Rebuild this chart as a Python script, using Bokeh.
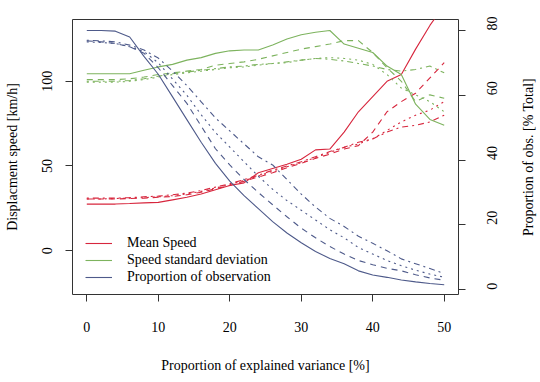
import math
from bokeh.plotting import figure
from bokeh.models import Range1d, LinearAxis, FixedTicker, Legend, LegendItem, Label
from bokeh.embed import file_html
from bokeh.resources import INLINE

# Proportion of explained variance [%]
explained_var = [0, 2, 4, 6, 8, 10, 12, 14, 16, 18, 20, 22, 24, 26, 28, 30,
                 32, 34, 36, 38, 40, 42, 44, 46, 48, 50]

# Mean speed [km/h] (left axis)
mean_speed_solid = [27.5, 27.5, 27.5, 27.8, 28.2, 28.5, 30, 31.5, 33.5, 36, 38.5, 40, 46,
                    48.5, 51, 54, 59.5, 60, 70, 82, 91, 100, 104, 119, 133, 145]
mean_speed_dashed = [30.5, 30.5, 30.5, 30.8, 31, 31.5, 32, 33, 34.5, 36.5, 38.5, 41, 43.5,
                     46, 49, 51.5, 54.5, 57, 60, 62, 70, 82, 88, 93, 102, 111]
mean_speed_dotted = [30.5, 30.5, 30.8, 31, 31.3, 31.8, 32.5, 33.5, 35, 37, 39, 41.5, 44,
                     47, 49.5, 52, 55, 58, 61, 63, 66, 71, 76, 80, 83, 88]
mean_speed_dotdash = [31, 31, 31, 31.3, 31.8, 32.2, 33, 34, 35.5, 37.5, 39.5, 42, 44.5,
                      47.5, 50, 52.5, 55.5, 58.5, 61, 64, 66, 70, 73, 74, 76, 80]

# Speed standard deviation [km/h] (left axis)
speed_sd_solid = [104.5, 104.5, 104.5, 104.5, 106.5, 108.5, 110, 112.5, 114, 116.5, 118,
                  118.5, 118.5, 121.5, 125, 127.5, 129, 130, 122, 119.5, 117, 109, 104,
                  86.5, 77.5, 74]
speed_sd_dashed = [101, 101, 101, 101.5, 102.5, 104, 105, 106, 107, 109.5, 110.5, 111.5,
                   113, 115, 117, 119, 120.5, 122, 124, 124, 117, 108, 100, 88, 92, 90]
speed_sd_dotted = [99.5, 99.5, 99.5, 100, 101, 102.5, 104, 105, 106, 107, 108, 108.5,
                   109.5, 110.5, 111, 112.5, 113.5, 114, 113.5, 112.5, 110, 104, 96, 92,
                   88, 82]
speed_sd_dotdash = [100, 100, 100, 100.5, 101.5, 103, 104.5, 105.5, 106.5, 107.5, 108.5,
                    109, 110, 110.5, 111.5, 112.5, 113.5, 113, 112, 110.5, 109, 107, 106,
                    107, 109, 105]

# Proportion of observations [% Total] (right axis)
prop_obs_solid = [80, 80, 79.8, 78, 72, 66.5, 59.5, 52.5, 45.5, 39, 33.5, 29, 25, 21,
                  17.5, 14.5, 11.8, 9.6, 8, 5.8, 4.5, 3.8, 3, 2.4, 1.9, 1.5]
prop_obs_dashed = [76.8, 76.5, 76, 75, 73, 68.5, 63, 57.5, 50.5, 43.5, 38.5, 34, 30, 26.2,
                   22.5, 19, 16, 13.3, 11, 9, 7.7, 6.6, 5.8, 4.6, 3.6, 2.9]
prop_obs_dotted = [76.5, 76.3, 76, 75, 73.5, 70, 65, 60, 54, 48.5, 44, 39.5, 35, 31, 27.5,
                   24.5, 21.5, 18.5, 16, 13, 11, 9, 7.4, 6, 4.8, 3.8]
prop_obs_dotdash = [77, 76.8, 76.5, 75.5, 74, 71.5, 67.5, 63, 58, 53, 49, 45, 41, 38.5,
                    34, 29.5, 25.5, 22, 19.5, 16.5, 14.3, 12, 9.5, 8, 6.5, 5]

x_ticks = [0, 10, 20, 30, 40, 50]
left_ticks = [0, 50, 100]
right_ticks = [0, 20, 40, 60, 80]
right_title = "Proportion of obs. [% Total]"

RED = "#D7263D"
GREEN = "#7DB35E"
BLUE = "#4E5A8A"
FONT = "Liberation Serif"
FS = "14px"

DASHES = {"solid": "solid", "dashed": "6 5", "dotted": "2 4", "dotdash": "2 4 6 4"}

FW, FH = 386, 275
p = figure(frame_width=FW, frame_height=FH,
           min_border_left=72, min_border_right=80, min_border_top=19, min_border_bottom=84,
           x_range=Range1d(-2, 52), y_range=Range1d(-25.9, 136.5),
           output_backend="svg", toolbar_location=None)
p.extra_y_ranges = {"prop": Range1d(-1.5, 83.4)}
p.grid.visible = False
p.outline_line_color = "#333333"
p.outline_line_width = 1
p.background_fill_color = "white"
p.border_fill_color = "white"

right_axis = LinearAxis(y_range_name="prop")
p.add_layout(right_axis, "right")

def style_axis(ax, ticks, label, standoff, label_standoff):
    ax.ticker = FixedTicker(ticks=ticks)
    ax.axis_label = label
    ax.axis_label_text_font = FONT
    ax.axis_label_text_font_size = FS
    ax.axis_label_text_font_style = "normal"
    ax.axis_label_text_color = "black"
    ax.major_label_text_font = FONT
    ax.major_label_text_font_size = FS
    ax.major_label_text_color = "black"
    ax.axis_line_color = None
    ax.major_tick_line_color = "#333333"
    ax.major_tick_out = 7
    ax.major_tick_in = 0
    ax.minor_tick_line_color = None
    ax.major_label_standoff = standoff
    ax.axis_label_standoff = label_standoff

style_axis(p.xaxis[0], x_ticks, "Proportion of explained variance [%]", 20, 23)
style_axis(p.yaxis[0], left_ticks, "Displacment speed [km/h]", 13, 20)
style_axis(right_axis, right_ticks, None, 27, 0)
p.yaxis[0].major_label_orientation = "vertical"
right_axis.major_label_orientation = math.pi / 2

# right-axis title, reading bottom-to-top as in the original, in the right panel
p.add_layout(Label(x=23, y=FH / 2, x_units="screen", y_units="screen",
                   text=right_title, angle=90, angle_units="deg",
                   text_align="center", text_baseline="middle",
                   text_font=FONT, text_font_size=FS, text_color="black"), "right")

series = [
    (mean_speed_solid, RED, "solid", None),
    (mean_speed_dashed, RED, "dashed", None),
    (mean_speed_dotted, RED, "dotted", None),
    (mean_speed_dotdash, RED, "dotdash", None),
    (speed_sd_solid, GREEN, "solid", None),
    (speed_sd_dashed, GREEN, "dashed", None),
    (speed_sd_dotted, GREEN, "dotted", None),
    (speed_sd_dotdash, GREEN, "dotdash", None),
    (prop_obs_solid, BLUE, "solid", "prop"),
    (prop_obs_dashed, BLUE, "dashed", "prop"),
    (prop_obs_dotted, BLUE, "dotted", "prop"),
    (prop_obs_dotdash, BLUE, "dotdash", "prop"),
]
renderers = []
for ys, col, dash, rng in series:
    kw = {}
    if rng:
        kw["y_range_name"] = rng
    r = p.line(explained_var, ys, line_color=col, line_width=1.1,
               line_dash=DASHES[dash], **kw)
    renderers.append(r)

legend = Legend(items=[
    LegendItem(label="Mean Speed", renderers=[renderers[0]]),
    LegendItem(label="Speed standard deviation", renderers=[renderers[4]]),
    LegendItem(label="Proportion of observation", renderers=[renderers[8]]),
], location=(13, 9))
legend.label_text_font = FONT
legend.label_text_font_size = FS
legend.label_text_color = "black"
legend.glyph_width = 27
legend.glyph_height = 14
legend.label_standoff = 15
legend.spacing = 1
legend.padding = 0
legend.margin = 0
legend.border_line_color = None
legend.background_fill_alpha = 0
p.add_layout(legend, "center")

open("out.html", "w").write(file_html(p, INLINE))
